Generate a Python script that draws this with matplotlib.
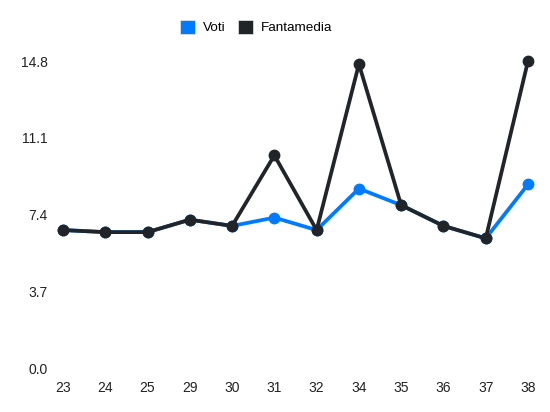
import matplotlib
matplotlib.use("Agg")
import matplotlib.pyplot as plt
from matplotlib.patches import Patch

plt.rcParams['font.family'] = ['Liberation Sans', 'DejaVu Sans']

giornate = ['23', '24', '25', '29', '30', '31', '32', '34', '35', '36', '37', '38']
voti = [6.65, 6.55, 6.55, 7.15, 6.85, 7.25, 6.65, 8.65, 7.85, 6.85, 6.25, 8.85]
fantamedia = [6.65, 6.55, 6.55, 7.15, 6.85, 10.25, 6.65, 14.65, 7.85, 6.85, 6.25, 14.8]
yticks = [0.0, 3.7, 7.4, 11.1, 14.8]

blue = '#007bff'
dark = '#212529'

fig = plt.figure(figsize=(5.5, 4.12), dpi=100)
ax = fig.add_axes([63/550, 44/412, 465/550, 307/412])

x = list(range(len(giornate)))
ax.plot(x, voti, color=blue, lw=2.7, marker='o', ms=7.5, clip_on=False, zorder=3)
ax.plot(x, fantamedia, color=dark, lw=2.7, marker='o', ms=7.5, clip_on=False, zorder=4)

ax.set_xlim(0, len(giornate) - 1)
ax.set_ylim(0, 14.8)
ax.set_xticks(x)
ax.set_xticklabels(giornate)
ax.set_yticks(yticks)
ax.set_yticklabels(['%.1f' % v for v in yticks])
ax.tick_params(length=0, labelsize=10, colors='#222222')
ax.tick_params(axis='y', pad=11)
ax.tick_params(axis='x', pad=9)
for s in ax.spines.values():
    s.set_visible(False)

handles = [Patch(facecolor=blue, edgecolor='#e8e8e8', lw=0.5), Patch(facecolor=dark, edgecolor='#e8e8e8', lw=0.5)]
fig.legend(handles, ['Voti', 'Fantamedia'], loc='center', bbox_to_anchor=(256/550, 1 - 27/412),
           ncol=2, frameon=False, fontsize=9.7, handlelength=1.1, handleheight=1.3,
           handletextpad=0.6, columnspacing=0.9)

fig.savefig('out.png', dpi=100)
